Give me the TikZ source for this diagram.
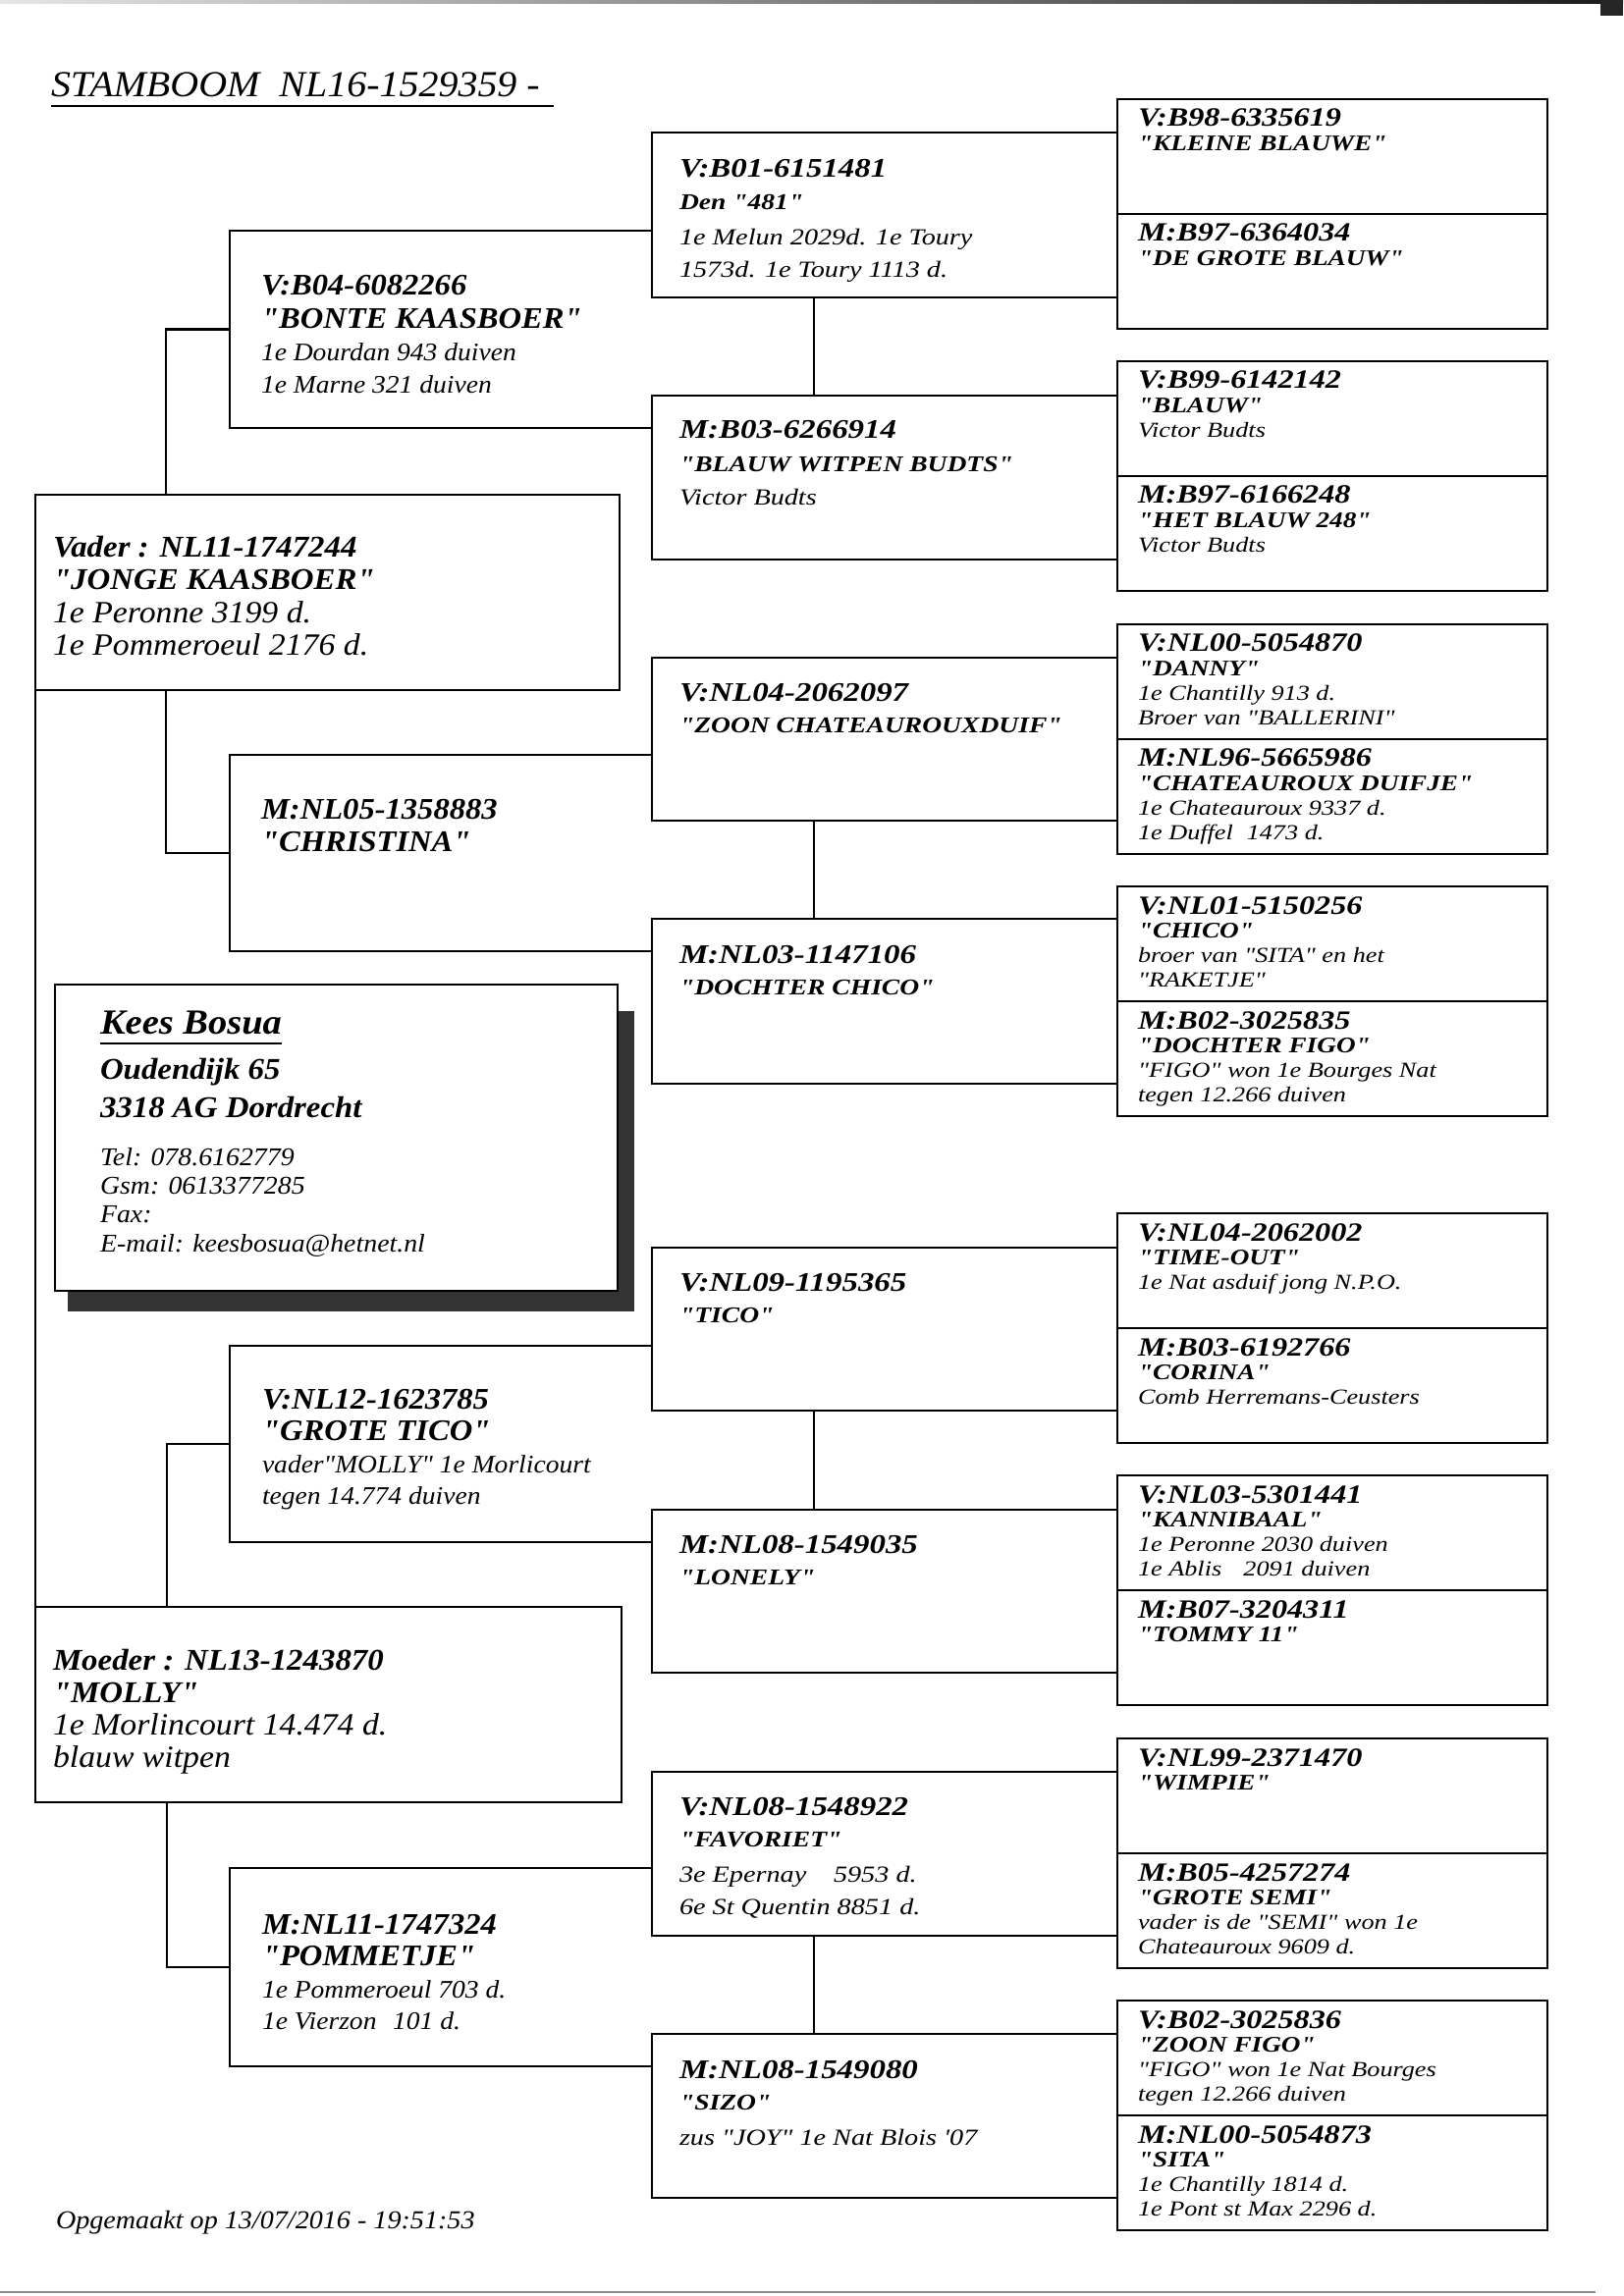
\documentclass[tikz,border=0pt]{standalone}
\usepackage{fontspec}
\setmainfont{Liberation Serif}
\newfontfamily\fb[FakeStretch=1.07]{Liberation Serif}
\newfontfamily\fc[FakeStretch=1.2]{Liberation Serif}
\usetikzlibrary{calc}
\def\unitpx{0.127mm}
\newcommand\tblock[2]{\vtop{\baselineskip=#1\relax\lineskiplimit=-100pt\relax\lineskip=0pt\relax #2}}
\newcommand\tline[1]{\hbox{#1}}
% gen4
\newcommand\fAt{\fc\bfseries\itshape\fontsize{9.7pt}{9pt}\selectfont}
\newcommand\fAn{\fc\bfseries\itshape\fontsize{8.2pt}{9pt}\selectfont}
\newcommand\fAi{\fc\itshape\fontsize{7.9pt}{9pt}\selectfont}
% gen3
\newcommand\fBt{\fc\bfseries\itshape\fontsize{9.9pt}{12pt}\selectfont}
\newcommand\fBn{\fc\bfseries\itshape\fontsize{8.3pt}{12pt}\selectfont}
\newcommand\fBi{\fc\itshape\fontsize{8.5pt}{12pt}\selectfont}
% gen2
\newcommand\fCt{\fb\bfseries\itshape\fontsize{11pt}{12pt}\selectfont}
\newcommand\fCi{\fb\itshape\fontsize{9.3pt}{12pt}\selectfont}
% gen1
\newcommand\fDt{\fb\bfseries\itshape\fontsize{11.1pt}{12pt}\selectfont}
\newcommand\fDi{\fb\itshape\fontsize{11.4pt}{12pt}\selectfont}
% misc
\newcommand\fKn{\fb\bfseries\itshape\fontsize{13pt}{14pt}\selectfont}
\newcommand\fKa{\fb\bfseries\itshape\fontsize{11.1pt}{14pt}\selectfont}
\newcommand\fKc{\fb\itshape\fontsize{9.4pt}{11pt}\selectfont}
\newcommand\fFo{\fb\itshape\fontsize{9.5pt}{11pt}\selectfont}
\newcommand\fTi{\fb\itshape\fontsize{13.5pt}{15pt}\selectfont}

\tikzset{
  boxst/.style={draw, line width=0.8pt, anchor=north west, inner sep=0pt, outer sep=0pt, fill=white},
  openbox/.style={anchor=north west, inner sep=0pt, outer sep=0pt},
  conn/.style={line width=0.8pt},
  txt/.style={anchor=base west, inner sep=0pt, outer sep=0pt},
}

\begin{document}
\begin{tikzpicture}[x=0.127mm, y=-0.127mm]
\useasboundingbox (0,0) rectangle (1653,2339);
\fill[white] (0,0) rectangle (1653,2339);
% scan edges
\shade[left color=black!10, right color=black!90] (0,0) rectangle (1653,4);
\fill[black!85] (1630,0) rectangle (1653,16);
\draw[black!45, line width=0.8pt] (0,2335) -- (1625,2335);

% title
\node[txt] (title) at (52,99) {\fTi STAMBOOM\ \ NL16-1529359 -};
\draw[line width=1pt] ($(title.base west)+(0,9)$) -- ($(title.base east)+(14,9)$);

% ---------- generation 4 ----------
\foreach \n/\t in {1/101,2/368,3/636,4/903,5/1236,6/1503,7/1771,8/2038}{
  \node[boxst, line width=0.7pt, minimum width=438*\unitpx, minimum height=117*\unitpx] (v\n) at (1138,\t) {};
  \node[boxst, line width=0.7pt, minimum width=438*\unitpx, minimum height=117*\unitpx] (m\n) at (1138,\t+117) {};
}
\node[txt] (tv1) at ($(v1.north west)+(21,28)$) {\tblock{9pt}{\tline{\fAt V:B98-6335619}\tline{\fAn "KLEINE BLAUWE"}}};
\node[txt] (tm1) at ($(m1.north west)+(21,28)$) {\tblock{9pt}{\tline{\fAt M:B97-6364034}\tline{\fAn "DE GROTE BLAUW"}}};
\node[txt] (tv2) at ($(v2.north west)+(21,28)$) {\tblock{9pt}{\tline{\fAt V:B99-6142142}\tline{\fAn "BLAUW"}\tline{\fAi Victor Budts}}};
\node[txt] (tm2) at ($(m2.north west)+(21,28)$) {\tblock{9pt}{\tline{\fAt M:B97-6166248}\tline{\fAn "HET BLAUW 248"}\tline{\fAi Victor Budts}}};
\node[txt] (tv3) at ($(v3.north west)+(21,28)$) {\tblock{9pt}{\tline{\fAt V:NL00-5054870}\tline{\fAn "DANNY"}\tline{\fAi 1e Chantilly 913 d.}\tline{\fAi Broer van "BALLERINI"}}};
\node[txt] (tm3) at ($(m3.north west)+(21,28)$) {\tblock{9pt}{\tline{\fAt M:NL96-5665986}\tline{\fAn "CHATEAUROUX DUIFJE"}\tline{\fAi 1e Chateauroux 9337 d.}\tline{\fAi 1e Duffel\hspace{5pt}1473 d.}}};
\node[txt] (tv4) at ($(v4.north west)+(21,28)$) {\tblock{9pt}{\tline{\fAt V:NL01-5150256}\tline{\fAn "CHICO"}\tline{\fAi broer van "SITA" en het}\tline{\fAi "RAKETJE"}}};
\node[txt] (tm4) at ($(m4.north west)+(21,28)$) {\tblock{9pt}{\tline{\fAt M:B02-3025835}\tline{\fAn "DOCHTER FIGO"}\tline{\fAi "FIGO" won 1e Bourges Nat}\tline{\fAi tegen 12.266 duiven}}};
\node[txt] (tv5) at ($(v5.north west)+(21,28)$) {\tblock{9pt}{\tline{\fAt V:NL04-2062002}\tline{\fAn "TIME-OUT"}\tline{\fAi 1e Nat asduif jong N.P.O.}}};
\node[txt] (tm5) at ($(m5.north west)+(21,28)$) {\tblock{9pt}{\tline{\fAt M:B03-6192766}\tline{\fAn "CORINA"}\tline{\fAi Comb Herremans-Ceusters}}};
\node[txt] (tv6) at ($(v6.north west)+(21,28)$) {\tblock{9pt}{\tline{\fAt V:NL03-5301441}\tline{\fAn "KANNIBAAL"}\tline{\fAi 1e Peronne 2030 duiven}\tline{\fAi 1e Ablis\hspace{8pt}2091 duiven}}};
\node[txt] (tm6) at ($(m6.north west)+(21,28)$) {\tblock{9pt}{\tline{\fAt M:B07-3204311}\tline{\fAn "TOMMY 11"}}};
\node[txt] (tv7) at ($(v7.north west)+(21,28)$) {\tblock{9pt}{\tline{\fAt V:NL99-2371470}\tline{\fAn "WIMPIE"}}};
\node[txt] (tm7) at ($(m7.north west)+(21,28)$) {\tblock{9pt}{\tline{\fAt M:B05-4257274}\tline{\fAn "GROTE SEMI"}\tline{\fAi vader is de "SEMI" won 1e}\tline{\fAi Chateauroux 9609 d.}}};
\node[txt] (tv8) at ($(v8.north west)+(21,28)$) {\tblock{9pt}{\tline{\fAt V:B02-3025836}\tline{\fAn "ZOON FIGO"}\tline{\fAi "FIGO" won 1e Nat Bourges}\tline{\fAi tegen 12.266 duiven}}};
\node[txt] (tm8) at ($(m8.north west)+(21,28)$) {\tblock{9pt}{\tline{\fAt M:NL00-5054873}\tline{\fAn "SITA"}\tline{\fAi 1e Chantilly 1814 d.}\tline{\fAi 1e Pont st Max 2296 d.}}};

% ---------- generation 3 ----------
\foreach \nm/\t/\h in {g3a/135/168, g3b/403/167, g3c/670/166, g3d/936/168, g3e/1271/166, g3f/1538/166, g3g/1805/167, g3h/2072/167}{
  \node[boxst, minimum width=474*\unitpx, minimum height=\h*\unitpx] (\nm) at (664,\t) {};
}
\foreach \a/\b in {g3a/g3b, g3c/g3d, g3e/g3f, g3g/g3h}{
  \draw[conn] ($(\a.south west)+(165,0)$) -- ($(\b.north west)+(165,0)$);
}
\node[txt] (tg3a) at ($(g3a.north west)+(28,46)$) {\tblock{11.9pt}{\tline{\fBt V:B01-6151481}\tline{\fBn Den "481"}\vskip0.8pt\tline{\fBi 1e Melun 2029d. 1e Toury}\tline{\fBi 1573d. 1e Toury 1113 d.}}};
\node[txt] (tg3b) at ($(g3b.north west)+(28,44)$) {\tblock{12.2pt}{\tline{\fBt M:B03-6266914}\tline{\fBn "BLAUW WITPEN BUDTS"}\tline{\fBi Victor Budts}}};
\node[txt] (tg3c) at ($(g3c.north west)+(28,44)$) {\tblock{11.9pt}{\tline{\fBt V:NL04-2062097}\tline{\fBn "ZOON CHATEAUROUXDUIF"}}};
\node[txt] (tg3d) at ($(g3d.north west)+(28,45)$) {\tblock{11.9pt}{\tline{\fBt M:NL03-1147106}\tline{\fBn "DOCHTER CHICO"}}};
\node[txt] (tg3e) at ($(g3e.north west)+(28,44)$) {\tblock{11.9pt}{\tline{\fBt V:NL09-1195365}\tline{\fBn "TICO"}}};
\node[txt] (tg3f) at ($(g3f.north west)+(28,44)$) {\tblock{11.9pt}{\tline{\fBt M:NL08-1549035}\tline{\fBn "LONELY"}}};
\node[txt] (tg3g) at ($(g3g.north west)+(28,44)$) {\tblock{11.9pt}{\tline{\fBt V:NL08-1548922}\tline{\fBn "FAVORIET"}\vskip0.8pt\tline{\fBi 3e Epernay\hspace{10pt}5953 d.}\tline{\fBi 6e St Quentin 8851 d.}}};
\node[txt] (tg3h) at ($(g3h.north west)+(28,45)$) {\tblock{11.9pt}{\tline{\fBt M:NL08-1549080}\tline{\fBn "SIZO"}\vskip0.8pt\tline{\fBi zus "JOY" 1e Nat Blois '07}}};

% ---------- generation 2 (open boxes) ----------
\node[openbox, minimum width=430*\unitpx, minimum height=201*\unitpx] (bonte) at (234,235) {};
\node[openbox, minimum width=430*\unitpx, minimum height=200*\unitpx] (christina) at (234,769) {};
\node[openbox, minimum width=430*\unitpx, minimum height=200*\unitpx] (tico) at (234,1371) {};
\node[openbox, minimum width=430*\unitpx, minimum height=202*\unitpx] (pommetje) at (234,1903) {};
\foreach \nm in {bonte, christina, tico, pommetje}{
  \draw[conn] (\nm.north east) -- (\nm.north west) -- (\nm.south west) -- (\nm.south east);
}
\node[txt] (tbonte) at ($(bonte.north west)+(32,66)$) {\tblock{12pt}{\tline{\fCt V:B04-6082266}\tline{\fCt "BONTE KAASBOER"}\tline{\fCi 1e Dourdan 943 duiven}\tline{\fCi 1e Marne 321 duiven}}};
\node[txt] (tchristina) at ($(christina.north west)+(32,65)$) {\tblock{12pt}{\tline{\fCt M:NL05-1358883}\tline{\fCt "CHRISTINA"}}};
\node[txt] (ttico) at ($(tico.north west)+(33,64)$) {\tblock{11.8pt}{\tline{\fCt V:NL12-1623785}\tline{\fCt "GROTE TICO"}\tline{\fCi vader"MOLLY" 1e Morlicourt}\tline{\fCi tegen 14.774 duiven}}};
\node[txt] (tpommetje) at ($(pommetje.north west)+(33,67)$) {\tblock{11.8pt}{\tline{\fCt M:NL11-1747324}\tline{\fCt "POMMETJE"}\tline{\fCi 1e Pommeroeul 703 d.}\tline{\fCi 1e Vierzon\hspace{6pt}101 d.}}};

% ---------- generation 1 ----------
\node[boxst, minimum width=595*\unitpx, minimum height=199*\unitpx] (vader) at (36,504) {};
\node[boxst, minimum width=597*\unitpx, minimum height=199*\unitpx] (moeder) at (36,1637) {};
\node[txt] (tvader) at ($(vader.north west)+(18,64)$) {\tblock{11.9pt}{\tline{\fDt Vader : NL11-1747244}\tline{\fDt "JONGE KAASBOER"}\vskip0.4pt\tline{\fDi 1e Peronne 3199 d.}\tline{\fDi 1e Pommeroeul 2176 d.}}};
\node[txt] (tmoeder) at ($(moeder.north west)+(18,64)$) {\tblock{12pt}{\tline{\fDt Moeder : NL13-1243870}\tline{\fDt "MOLLY"}\tline{\fDi 1e Morlincourt 14.474 d.}\tline{\fDi blauw witpen}}};

% connectors gen1 -> gen2
\draw[conn] (vader.south west) -- (moeder.north west);
\draw[conn] (bonte.west) -| ($(vader.north west)+(133,0)$);
\draw[conn] (christina.west) -| ($(vader.south west)+(133,0)$);
\draw[conn] (tico.west) -| ($(moeder.north west)+(134,0)$);
\draw[conn] (pommetje.west) -| ($(moeder.south west)+(134,0)$);

% ---------- breeder card ----------
\fill[black!80] (69,1030) rectangle (646,1336);
\node[boxst, minimum width=573*\unitpx, minimum height=312*\unitpx] (kees) at (56,1003) {};
\node[txt] (kname) at (102,1053) {\fKn Kees Bosua};
\draw[line width=0.6pt] ($(kname.base west)+(0,10)$) -- ($(kname.base east)+(0,10)$);
\node[txt] (kaddr) at (102,1099) {\tblock{14.4pt}{\tline{\fKa Oudendijk 65}\tline{\fKa 3318 AG Dordrecht}}};
\node[txt] (kcont) at (102,1187) {\tblock{10.6pt}{\tline{\fKc Tel: 078.6162779}\tline{\fKc Gsm: 0613377285}\tline{\fKc Fax:}\tline{\fKc E-mail: keesbosua@hetnet.nl}}};

% footer
\node[txt] (foot) at (57,2270) {\fFo Opgemaakt op 13/07/2016 - 19:51:53};
\end{tikzpicture}
\end{document}
